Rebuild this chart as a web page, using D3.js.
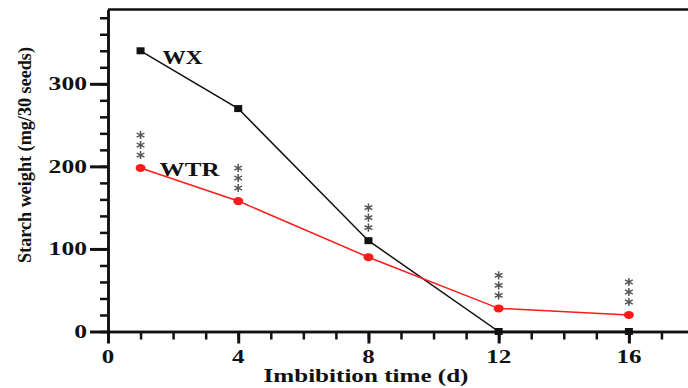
<!DOCTYPE html>
<html>
<head>
<meta charset="utf-8">
<script src="https://cdn.jsdelivr.net/npm/d3@7"></script>
<style>
  html, body { margin: 0; padding: 0; background: #fff; }
  svg { display: block; }
</style>
</head>
<body>
<svg id="chart" width="688" height="388" font-family="'Liberation Serif', Tinos, 'Times New Roman', Times, serif" font-weight="bold"></svg>
<script>
// ---- data ----
const days = [1, 4, 8, 12, 16];
const wxValues = [340, 270, 110, 0, 0];
const wtrValues = [198, 158, 90, 28, 20];
// value of the point above which the "***" marks sit
const sigAnchor = [198, 158, 110, 28, 20];
const xMajorTicks = [0, 4, 8, 12, 16];
const xMinorTicks = d3.range(0, 19);
const yMajorTicks = [0, 100, 200, 300];
const yMinorTicks = d3.range(0, 391, 20);
const xTitle = "Imbibition time (d)";
const yTitle = "Starch weight (mg/30 seeds)";
const seriesNames = ["WX", "WTR"];

// ---- layout ----
const svg = d3.select("#chart");
const x = d3.scaleLinear().domain([0, 18]).range([108, 694]);
const y = d3.scaleLinear().domain([0, 390]).range([331.5, 9.5]);
const INK = "#111";

// top frame line
svg.append("line")
  .attr("x1", x(0)).attr("x2", x(18))
  .attr("y1", y(390)).attr("y2", y(390))
  .attr("stroke", INK).attr("stroke-width", 2.5);

const axisStyle = g => {
  g.selectAll("path.domain").attr("stroke", INK).attr("stroke-width", 2.5);
  g.selectAll(".tick line").attr("stroke", INK).attr("stroke-width", 2.5);
  g.selectAll(".tick text").remove();
};
svg.append("g").attr("transform", `translate(0,${y(0)})`)
  .call(d3.axisBottom(x).tickValues(xMinorTicks).tickSize(8).tickSizeOuter(0))
  .call(axisStyle);
svg.append("g").attr("transform", `translate(0,${y(0)})`)
  .call(d3.axisBottom(x).tickValues(xMajorTicks).tickSize(12).tickSizeOuter(0))
  .call(axisStyle)
  .call(g => g.selectAll(".tick line").attr("stroke-width", 3));
svg.append("g").attr("transform", `translate(${x(0)},0)`)
  .call(d3.axisLeft(y).tickValues(yMinorTicks).tickSize(8).tickSizeOuter(0))
  .call(axisStyle);
svg.append("g").attr("transform", `translate(${x(0)},0)`)
  .call(d3.axisLeft(y).tickValues(yMajorTicks).tickSize(18).tickSizeOuter(0))
  .call(axisStyle)
  .call(g => g.selectAll(".tick line").attr("stroke-width", 3));

// helper for stretched bold serif text
function label(parent, str, tx, ty, size, width, anchor, rot) {
  return parent.append("text")
    .attr("transform", `translate(${tx},${ty})` + (rot ? ` rotate(${rot})` : ""))
    .attr("text-anchor", anchor)
    .attr("font-size", size)
    .attr("fill", INK)
    .attr("textLength", width)
    .attr("lengthAdjust", "spacingAndGlyphs")
    .text(str);
}

// tick labels
xMajorTicks.forEach(d => label(svg, String(d), x(d), 363, 19, String(d).length * 12.5, "middle"));
yMajorTicks.forEach(d => label(svg, String(d), x(0) - 21, y(d) + 6.5, 19, String(d).length * 12.8, "end"));

// axis titles
label(svg, xTitle, 366, 382, 19, 205, "middle");
label(svg, yTitle, 31, 155, 18.5, 216, "middle", -90);

// series lines
const line = d3.line().x(d => x(d[0])).y(d => y(d[1]));
const wxData = days.map((d, i) => [d, wxValues[i]]);
const wtrData = days.map((d, i) => [d, wtrValues[i]]);

svg.append("path").datum(wxData)
  .attr("d", line).attr("fill", "none")
  .attr("stroke", INK).attr("stroke-width", 1.5);
svg.append("path").datum(wtrData)
  .attr("d", line).attr("fill", "none")
  .attr("stroke", "#ff1a1a").attr("stroke-width", 1.5);

// markers
svg.append("g").selectAll("rect").data(wxData).join("rect")
  .attr("x", d => x(d[0]) - 4).attr("y", d => y(d[1]) - 3.5)
  .attr("width", 8).attr("height", 7)
  .attr("fill", INK);
svg.append("g").selectAll("ellipse").data(wtrData).join("ellipse")
  .attr("cx", d => x(d[0])).attr("cy", d => y(d[1]))
  .attr("rx", 5).attr("ry", 4)
  .attr("fill", "#ff1a1a");

// significance marks "***"
const ast = d3.symbol().type(d3.symbolAsterisk).size(46)();
const sigG = svg.append("g");
days.forEach((d, i) => {
  for (let k = 0; k < 3; k++) {
    sigG.append("path")
      .attr("d", ast)
      .attr("transform", `translate(${x(d)},${y(sigAnchor[i]) - 13 - k * 10}) scale(1.1,1)`)
      .attr("fill", "none")
      .attr("stroke", "#555")
      .attr("stroke-width", 1.4);
  }
});

// series labels
label(svg, seriesNames[0], x(days[0]) + 22, y(wxValues[0]) + 13, 18.5, 40, "start");
label(svg, seriesNames[1], x(days[0]) + 19, y(wtrValues[0]) + 8, 19, 60, "start");
</script>
</body>
</html>
